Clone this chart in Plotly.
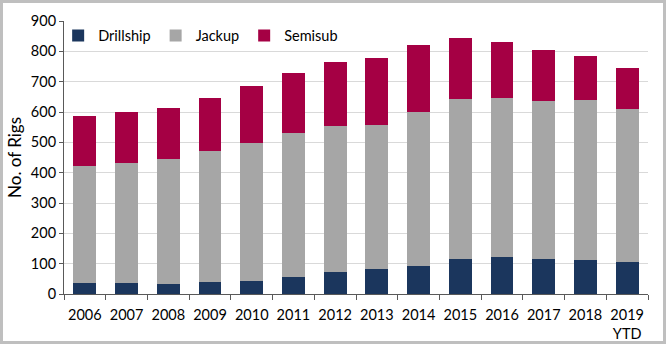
import plotly.graph_objects as go

categories = ["2006", "2007", "2008", "2009", "2010", "2011", "2012",
              "2013", "2014", "2015", "2016", "2017", "2018", "2019<br>YTD"]
drillship = [37, 37, 34, 40, 44, 57, 73, 84, 93, 116, 123, 116, 113, 106]
jackup = [386, 396, 412, 432, 455, 475, 482, 474, 508, 528, 524, 521, 527, 505]
semisub = [165, 168, 168, 175, 188, 197, 210, 221, 221, 201, 185, 168, 145, 135]
y_ticks = [0, 100, 200, 300, 400, 500, 600, 700, 800, 900]

FONT = "Lato, 'Open Sans', sans-serif"
FS = 14.5
W, H = 667, 346
ML, MR, MT, MB = 64, 19, 21, 52

fig = go.Figure()
fig.add_trace(go.Bar(name="Drillship", x=categories, y=drillship, marker_color="#1b365d", marker_line_width=0))
fig.add_trace(go.Bar(name="Jackup", x=categories, y=jackup, marker_color="#a6a6a6", marker_line_width=0))
fig.add_trace(go.Bar(name="Semisub", x=categories, y=semisub, marker_color="#a50044", marker_line_width=0))

pw = W - ML - MR
ph = H - MT - MB
def px_x(p):
    return (p - ML) / pw
def px_y(p):
    return (H - MB - p) / ph

fig.add_shape(type="rect", xref="paper", yref="paper",
              x0=px_x(1.5), x1=px_x(W - 2.5), y0=px_y(H - 3.5), y1=px_y(1.5),
              line=dict(color="#bfbfbf", width=3), fillcolor="rgba(0,0,0,0)", layer="above")

fig.update_layout(
    width=W, height=H,
    margin=dict(l=ML, r=MR, t=MT, b=MB, autoexpand=False),
    barmode="stack", bargap=0.45,
    paper_bgcolor="white", plot_bgcolor="white",
    font=dict(family=FONT, size=FS, color="#000000"),
    showlegend=True,
    legend=dict(orientation="h", x=-0.01, y=1.005, xanchor="left", yanchor="top",
                bgcolor="rgba(0,0,0,0)", font=dict(size=FS, family=FONT),
                itemwidth=30, traceorder="normal"),
    xaxis=dict(type="category", showline=True, linecolor="#595959", linewidth=1,
               ticks="outside", ticklen=5, tickcolor="#595959", tickson="boundaries",
               showgrid=False, tickfont=dict(size=FS, family=FONT), ticklabelstandoff=8,
               tickangle=0, automargin=False),
    yaxis=dict(range=[0, 900], tickvals=y_ticks, showline=True, linecolor="#595959",
               linewidth=1, ticks="outside", ticklen=4, tickcolor="#595959",
               showgrid=True, gridcolor="#d9d9d9", gridwidth=1, zeroline=False,
               tickfont=dict(size=FS, family=FONT), automargin=False,
               title=dict(text="No. of Rigs", font=dict(size=17, family=FONT), standoff=4)),
)

fig.write_html("out.html")
